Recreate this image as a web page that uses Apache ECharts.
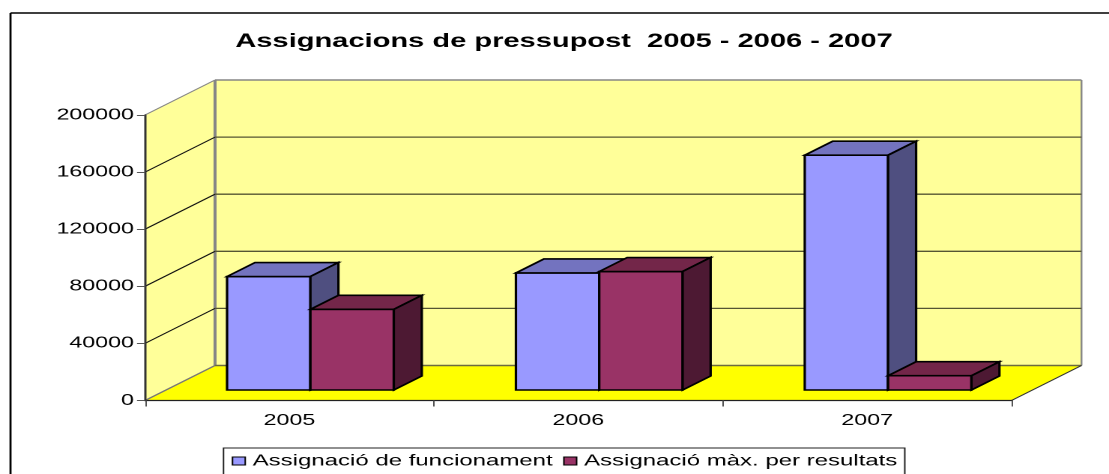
<!DOCTYPE html>
<html>
<head>
<meta charset="utf-8">
<script src="https://cdn.jsdelivr.net/npm/echarts@6/dist/echarts.min.js"></script>
<style>
html,body{margin:0;padding:0;background:#fff;overflow:hidden;width:1109px;height:474px}
#main{width:740px;height:474px;transform-origin:0 0;transform:scaleX(1.49865)}
</style>
</head>
<body>
<div id="main"></div>
<script>
const titleText = 'Assignacions de pressupost  2005 - 2006 - 2007';
const categories = ['2005', '2006', '2007'];
const funcionamentName = 'Assignació de funcionament';
const resultatsName = 'Assignació màx. per resultats';
const funcionament = [79500, 82000, 164500];
const resultats = [56500, 83000, 10000];
const wallTicks = [40000, 80000, 120000, 160000, 200000];

const S = 1109 / 740;              // the reference is stretched horizontally
const FONT = '"Liberation Sans", Arial, sans-serif';
const DX = 70 / S, DY = -35;       // full depth of the 3D box
const BAR_FRONT = 0.3, BAR_DEPTH = 0.4, BAR_BAND = 0.2886;
const BLUE = { front: '#9999FF', top: '#7373BF', side: '#4F4F80' };
const RED = { front: '#993366', top: '#732649', side: '#4D1933' };

function poly(points, fill, stroke, lw) {
  return { type: 'polygon', shape: { points },
    style: { fill, stroke: stroke || 'none', lineWidth: lw || 0 } };
}
function seg(a, b, stroke, lw) {
  return { type: 'line', shape: { x1: a[0], y1: a[1], x2: b[0], y2: b[1] },
    style: { stroke, lineWidth: lw, fill: 'none' } };
}

function renderWalls(params, api) {
  const v = api.value(1);
  const band = api.size([1, 0])[0];
  const c0 = api.coord([0, 0]);
  const left = c0[0] - band / 2;
  const right = left + band * categories.length;
  const y0 = c0[1];
  const yv = api.coord([0, v])[1];
  const children = [];
  if (params.dataIndex === 0) {
    const yt = api.coord([0, wallTicks[wallTicks.length - 1]])[1];
    children.push(
      poly([[left, yt], [left + DX, yt + DY], [left + DX, y0 + DY], [left, y0]], '#FFFF99'),
      poly([[left + DX, yt + DY], [right + DX, yt + DY], [right + DX, y0 + DY], [left + DX, y0 + DY]], '#FFFF99'),
      poly([[left, y0], [left + DX, y0 + DY], [right + DX, y0 + DY], [right, y0]], '#FFFF00'),
      seg([left + DX, yt + DY], [right + DX, yt + DY], '#868686', 1.5),
      seg([left + DX, yt + DY], [left + DX, y0 + DY], '#868686', 2),
      seg([right + DX, yt + DY], [right + DX, y0 + DY], '#868686', 1.2),
      seg([left + DX, y0 + DY], [right + DX, y0 + DY], '#6b6b40', 1.5),
      seg([left, y0], [left + DX, y0 + DY], '#777777', 1.2),
      seg([right, y0], [right + DX, y0 + DY], '#333333', 1)
    );
  }
  const top = v === wallTicks[wallTicks.length - 1];
  children.push(seg([left, yv], [left + DX, yv + DY], top ? '#868686' : '#111111', 1));
  if (!top) children.push(seg([left + DX, yv + DY], [right + DX, yv + DY], '#555533', 1.3));
  return { type: 'group', children };
}

function barRenderer(colors, offset) {
  return function (params, api) {
    const cat = api.value(0), val = api.value(1);
    const base = api.coord([cat, 0]);
    const head = api.coord([cat, val]);
    const band = api.size([1, 0])[0];
    const w = band * BAR_BAND;
    const x0 = base[0] + BAR_FRONT * DX + offset * w;
    const x1 = x0 + w;
    const yb = base[1] + BAR_FRONT * DY;
    const yt = head[1] + BAR_FRONT * DY;
    const dx = BAR_DEPTH * DX, dy = BAR_DEPTH * DY;
    return { type: 'group', children: [
      poly([[x0, yb], [x1, yb], [x1, yt], [x0, yt]], colors.front, '#000', 1.6),
      poly([[x0, yt], [x1, yt], [x1 + dx, yt + dy], [x0 + dx, yt + dy]], colors.top, '#000', 1.6),
      poly([[x1, yb], [x1 + dx, yb + dy], [x1 + dx, yt + dy], [x1, yt]], colors.side, '#000', 1.6)
    ] };
  };
}

const chart = echarts.init(document.getElementById('main'), null, { renderer: 'canvas', width: 740, height: 474, devicePixelRatio: 2 });
chart.setOption({
  animation: false,
  backgroundColor: '#fff',
  textStyle: { fontFamily: FONT },
  title: {
    text: titleText, left: 556.5 / S, top: 27, textAlign: 'center',
    textStyle: { fontFamily: FONT, fontSize: 19.4, fontWeight: 'bold', color: '#000' }
  },
  legend: {
    left: 223.5 / S, top: 448, orient: 'horizontal',
    padding: [5, 5, 40, 5.5], itemGap: 7, itemWidth: 8.5, itemHeight: 8,
    borderColor: '#222', borderWidth: 1, backgroundColor: '#fff',
    textStyle: { fontFamily: FONT, fontSize: 16, color: '#000', padding: [0, 0, 0, 0] },
    data: [
      { name: funcionamentName, icon: 'rect', itemStyle: { color: BLUE.front, borderColor: '#000', borderWidth: 1 } },
      { name: resultatsName, icon: 'rect', itemStyle: { color: RED.front, borderColor: '#000', borderWidth: 1 } }
    ]
  },
  grid: { left: 145 / S, width: 866.5 / S, top: 115, height: 285.5 },
  xAxis: {
    type: 'category', data: categories, z: 5,
    axisLine: { lineStyle: { color: '#222', width: 1.3 } },
    axisTick: { show: true, alignWithLabel: false, length: 6, lineStyle: { color: '#555', width: 1 } },
    axisLabel: { color: '#000', fontFamily: FONT, fontSize: 15.5, margin: 12 },
    splitLine: { show: false }
  },
  yAxis: {
    type: 'value', min: 0, max: 200000, interval: 40000, z: 5,
    axisLine: { show: true, lineStyle: { color: '#333', width: 1.5 } },
    axisTick: { show: true, length: 8 / S, lineStyle: { color: '#555', width: 1 } },
    axisLabel: { color: '#000', fontFamily: FONT, fontSize: 15.5, margin: 11 / S,
      formatter: v => String(v) },
    splitLine: { show: false }
  },
  graphic: [
    { type: 'line', silent: true, z: 10, shape: { x1: 7, y1: 13, x2: 740, y2: 13 }, style: { stroke: '#000', lineWidth: 1.6 } },
    { type: 'line', silent: true, z: 10, shape: { x1: 7, y1: 13, x2: 7, y2: 474 }, style: { stroke: '#000', lineWidth: 1.4 } }
  ],
  series: [
    { type: 'custom', name: 'walls', silent: true, z: 1, renderItem: renderWalls,
      data: wallTicks.map(t => [0, t]), encode: { x: 0, y: 1 } },
    { type: 'custom', name: funcionamentName, z: 2, renderItem: barRenderer(BLUE, -1),
      itemStyle: { color: BLUE.front },
      data: funcionament.map((v, i) => [i, v]), encode: { x: 0, y: 1 } },
    { type: 'custom', name: resultatsName, z: 3, renderItem: barRenderer(RED, 0),
      itemStyle: { color: RED.front },
      data: resultats.map((v, i) => [i, v]), encode: { x: 0, y: 1 } }
  ]
});
</script>
</body>
</html>
